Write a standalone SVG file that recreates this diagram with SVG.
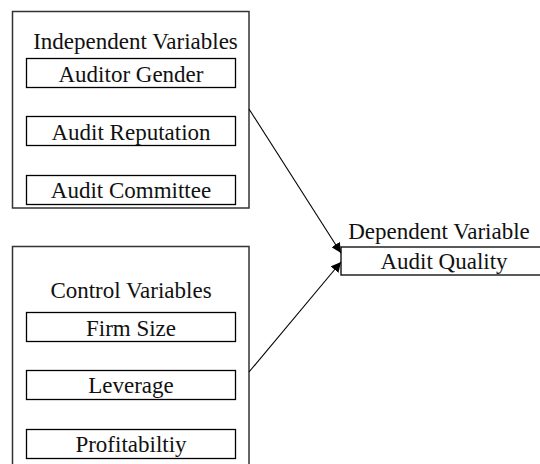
<svg xmlns="http://www.w3.org/2000/svg" width="540" height="464" viewBox="0 0 540 464">
<defs>
<marker id="ah" viewBox="0 0 10 10" refX="10" refY="5" markerWidth="10" markerHeight="10" markerUnits="userSpaceOnUse" orient="auto">
<path d="M0,0 L10,5 L0,10 Z" fill="#000"/>
</marker>
<style>
.box{fill:#fff;stroke:#000;stroke-width:1.3}
.outer{fill:#fff;stroke:#333;stroke-width:1.5}
text{font-family:"Liberation Serif","Times New Roman",serif;font-size:23px;fill:#111;text-anchor:middle}
.con{stroke:#000;stroke-width:1.1;fill:none;marker-end:url(#ah)}
</style>
</defs>
<rect width="540" height="464" fill="#fff"/>
<g id="independent">
<rect class="outer" x="12.5" y="11.5" width="236.5" height="196.5"/>
<text x="135.5" y="49">Independent Variables</text>
<g id="auditor-gender"><rect class="box" x="26.5" y="58.5" width="209" height="29"/><text x="131" y="81.5">Auditor Gender</text></g>
<g id="audit-reputation"><rect class="box" x="26.5" y="116.5" width="209" height="29"/><text x="131" y="140">Audit Reputation</text></g>
<g id="audit-committee"><rect class="box" x="26.5" y="175.5" width="209" height="29"/><text x="131" y="198">Audit Committee</text></g>
</g>
<g id="control">
<rect class="outer" x="12.5" y="246.5" width="236.5" height="230"/>
<text x="131" y="298">Control Variables</text>
<g id="firm-size"><rect class="box" x="26.5" y="312.5" width="209" height="29"/><text x="131" y="336">Firm Size</text></g>
<g id="leverage"><rect class="box" x="26.5" y="370.5" width="209" height="29"/><text x="131" y="393">Leverage</text></g>
<g id="profitability"><rect class="box" x="26.5" y="429.5" width="209" height="29"/><text x="131" y="451.5">Profitabiltiy</text></g>
</g>
<g id="dependent">
<text x="439" y="239">Dependent Variable</text>
<rect class="box" x="341" y="247" width="210" height="28"/>
<text x="444" y="269">Audit Quality</text>
</g>
<g id="connectors">
<line class="con" x1="249" y1="109" x2="341" y2="253"/>
<line class="con" x1="249" y1="372" x2="341" y2="262"/>
</g>
</svg>
